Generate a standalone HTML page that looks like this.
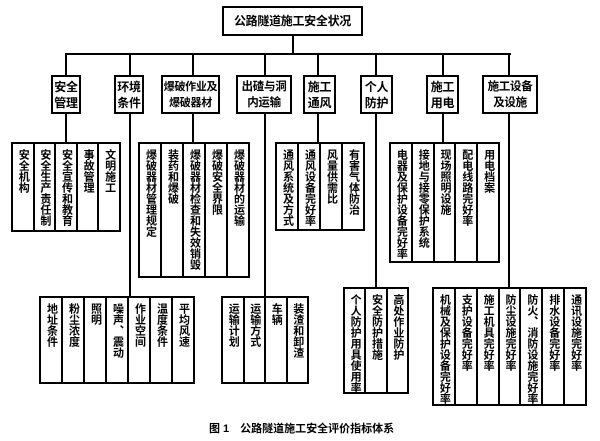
<!DOCTYPE html>
<html><head><meta charset="utf-8"><style>
body{margin:0;background:#fff;width:600px;height:441px;position:relative;overflow:hidden;font-family:"Liberation Sans","Noto Sans CJK SC",sans-serif;font-weight:bold;color:#000}
.h{position:absolute;background:#000;height:2px}
.v{position:absolute;background:#000;width:2px}
.l2{position:absolute;border:2px solid #000;box-sizing:border-box;display:flex;align-items:center;justify-content:center;text-align:center;font-size:12px;line-height:16px;background:#fff;white-space:nowrap;letter-spacing:-0.3px}
.g{position:absolute;border:2px solid #000;box-sizing:border-box;display:flex;background:#fff}
.g div{flex:1;border-left:2px solid #000;display:flex;justify-content:center;align-items:flex-start;padding-top:5px;overflow:hidden}
.g div:first-child{border-left:none}
.g div span{writing-mode:vertical-rl;white-space:nowrap;font-size:11px;line-height:13px;letter-spacing:0}
</style></head><body>
<div class="l2" style="left:222px;top:6px;width:141px;height:30px;font-size:12px">公路隧道施工安全状况</div>
<div class="v" style="left:292px;top:35px;height:20px"></div>
<div class="h" style="left:65px;top:53px;width:446px"></div>
<div class="v" style="left:65px;top:53px;height:90px"></div>
<div class="v" style="left:129px;top:53px;height:244px"></div>
<div class="v" style="left:192px;top:53px;height:90px"></div>
<div class="v" style="left:264px;top:53px;height:244px"></div>
<div class="v" style="left:317px;top:53px;height:90px"></div>
<div class="v" style="left:375px;top:53px;height:235px"></div>
<div class="v" style="left:442px;top:53px;height:90px"></div>
<div class="v" style="left:508px;top:53px;height:235px"></div>

<div class="l2" style="left:51px;top:75px;width:30px;height:39px">安全<br>管理</div>
<div class="l2" style="left:114px;top:75px;width:30px;height:39px">环境<br>条件</div>
<div class="l2" style="left:161px;top:75px;width:59px;height:39px;font-size:11px">爆破作业及<br>爆破器材</div>
<div class="l2" style="left:236px;top:75px;width:56px;height:39px;font-size:11.5px">出碴与洞<br>内运输</div>
<div class="l2" style="left:303px;top:75px;width:33px;height:39px">施工<br>通风</div>
<div class="l2" style="left:360px;top:75px;width:33px;height:39px">个人<br>防护</div>
<div class="l2" style="left:426px;top:75px;width:33px;height:39px">施工<br>用电</div>
<div class="l2" style="left:482px;top:75px;width:56px;height:39px;font-size:11.5px">施工设备<br>及设施</div>

<div class="g" style="left:11px;top:142px;width:110px;height:90px"><div><span>安全机构</span></div><div><span>安全生产责任制</span></div><div><span>安全宣传和教育</span></div><div><span>事故管理</span></div><div><span>文明施工</span></div></div>
<div class="g" style="left:138px;top:142px;width:112px;height:136px"><div><span>爆破器材管理规定</span></div><div><span>装药和爆破</span></div><div><span>爆破器材检查和失效销毁</span></div><div><span>爆破安全界限</span></div><div><span>爆破器材的运输</span></div></div>
<div class="g" style="left:275px;top:142px;width:90px;height:89px"><div><span>通风系统及方式</span></div><div><span>通风设备完好率</span></div><div><span>风量供需比</span></div><div><span>有害气体防治</span></div></div>
<div class="g" style="left:389px;top:142px;width:111px;height:121px"><div><span>电器及保护设备完好率</span></div><div><span>接地与接零保护系统</span></div><div><span>现场照明设施</span></div><div><span>配电线路完好率</span></div><div><span>用电档案</span></div></div>

<div class="g" style="left:39px;top:296px;width:156px;height:88px"><div><span>地址条件</span></div><div><span>粉尘浓度</span></div><div><span>照明</span></div><div><span>噪声、震动</span></div><div><span>作业空间</span></div><div><span>温度条件</span></div><div><span>平均风速</span></div></div>
<div class="g" style="left:221px;top:296px;width:88px;height:88px"><div><span>运输计划</span></div><div><span>运输方式</span></div><div><span>车辆</span></div><div><span>装渣和卸渣</span></div></div>
<div class="g" style="left:343px;top:287px;width:66px;height:107px"><div><span>个人防护用具使用率</span></div><div><span>安全防护措施</span></div><div><span>高处作业防护</span></div></div>
<div class="g" style="left:432px;top:287px;width:155px;height:119px"><div><span>机械及保护设备完好率</span></div><div><span>支护设备完好率</span></div><div><span>施工机具完好率</span></div><div><span>防尘设施完好率</span></div><div><span>防火、消防设施完好率</span></div><div><span>排水设备完好率</span></div><div><span>通讯设施完好率</span></div></div>

<div style="position:absolute;left:209px;top:420px;font-size:11px;white-space:nowrap">图 1　公路隧道施工安全评价指标体系</div>
</body></html>
